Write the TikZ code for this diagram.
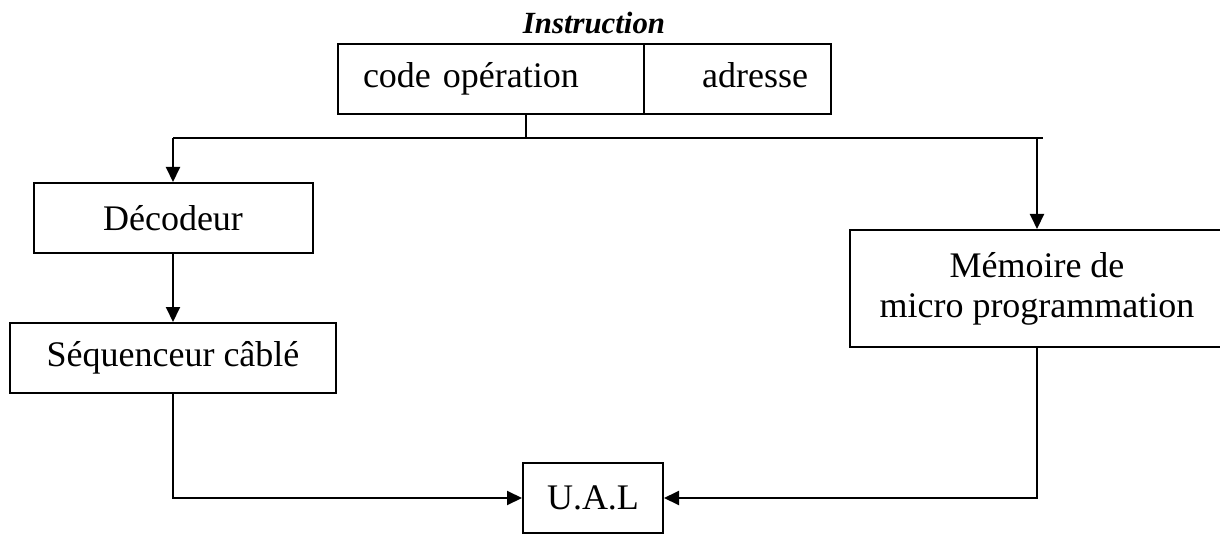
\documentclass[tikz,border=0pt]{standalone}
\usepackage{fontspec}
\setmainfont{Liberation Serif}
\usetikzlibrary{arrows.meta}
\begin{document}
\begin{tikzpicture}[x=0.5pt,y=-0.5pt,
  box/.style={draw, line width=1pt, inner sep=0pt, font=\fontsize{18}{20}\selectfont, align=center},
  conn/.style={line width=1pt},
  arr/.style={conn, -{Triangle[length=7.5pt,width=7pt]}}]
\useasboundingbox (0,0) rectangle (1220,534);
\node[font=\fontsize{15.4}{18}\selectfont\bfseries\itshape, anchor=base] (title) at (594,34) {Instruction};
\node[box, anchor=north west, inner xsep=12.5pt, text width=128pt, align=left, text height=12.5pt, text depth=4pt, minimum height=35pt] (op) at (337,43) {code opération};
\node[box, anchor=north west, inner xsep=11.5pt, text width=70.5pt, align=right, text height=12.5pt, text depth=4pt, minimum height=35pt] (ad) at (643,43) {adresse};
\node[box, minimum width=139.5pt, minimum height=35pt] (dec) at (173,218) {Décodeur};
\node[box, minimum width=163pt, minimum height=35pt] (seq) at (173,358) {Séquenceur câblé};
\node[box, minimum width=187pt, minimum height=58.5pt] (mem) at (1037,288.5) {Mémoire de\\micro programmation};
\node[box, minimum width=70pt, minimum height=35pt] (ual) at (593,498) {U.A.L};
\coordinate (split) at (526,138);
\coordinate (lt) at (173,138);
\coordinate (rt) at (1043,138);
\draw[conn] (split) -- (split |- op.south);
\draw[conn] (lt) -- (rt);
\draw[arr] (lt) -- (dec.north);
\draw[arr] (mem.north |- lt) -- (mem.north);
\draw[arr] (dec) -- (seq);
\draw[arr] (seq.south) |- (ual.west);
\draw[arr] (mem.south) |- (ual.east);
\end{tikzpicture}
\end{document}
